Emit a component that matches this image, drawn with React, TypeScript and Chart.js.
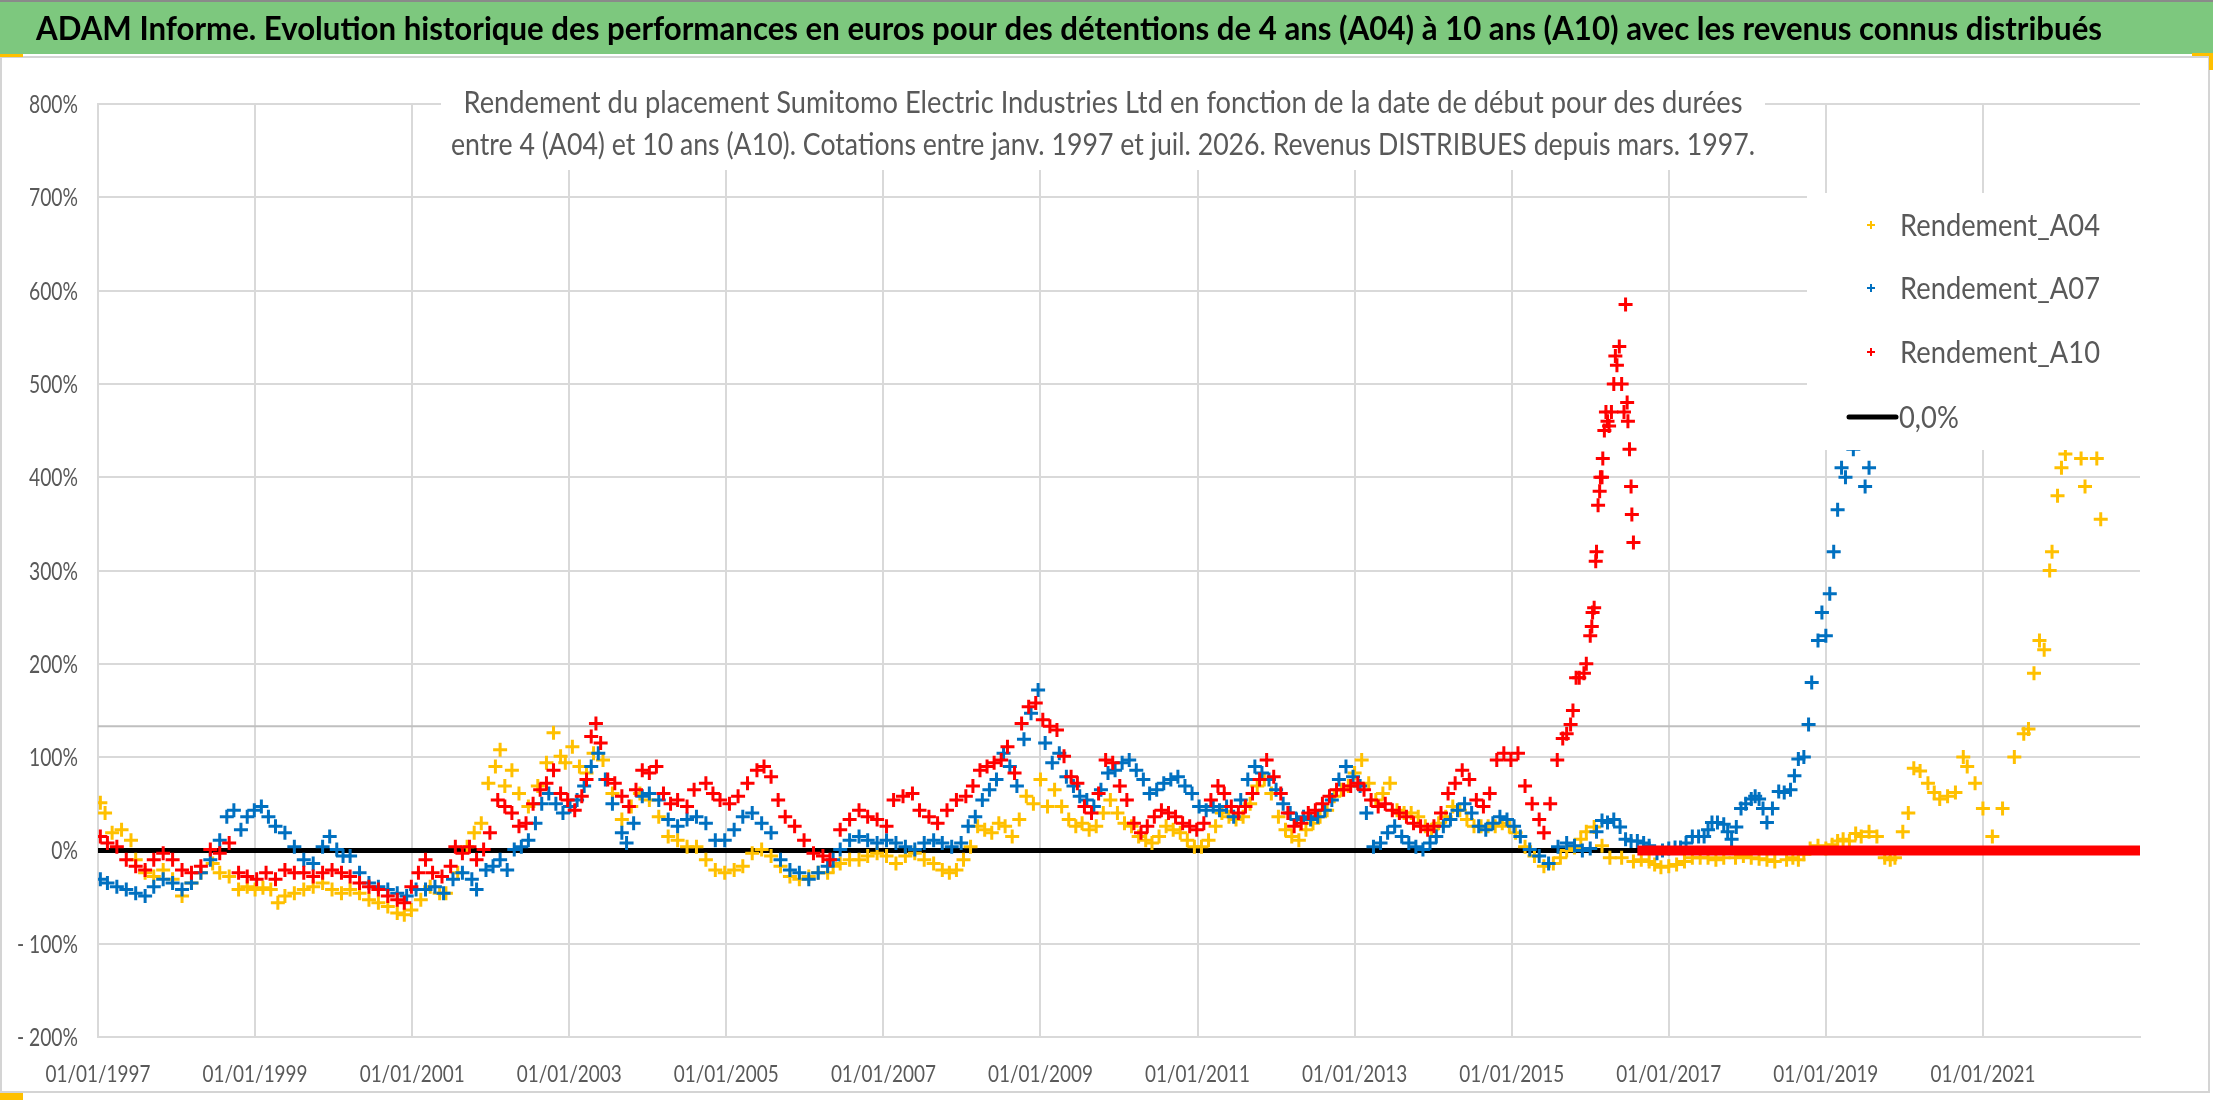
import React, { useEffect, useRef } from 'react';
import { Chart, registerables } from 'chart.js';

Chart.register(...registerables);

// ---------- DATA (decimal year, % return) ----------
const A04: [number, number][] = [
  [1997.03, 51], [1997.09, 40], [1997.18, 19], [1997.3, 22], [1997.42, 11], [1997.48, -10], [1997.6, -24],
  [1997.71, -28], [1997.83, -21], [1997.95, -31], [1998.07, -49], [1998.19, -35], [1998.31, -24], [1998.46, -14],
  [1998.55, -24], [1998.67, -28], [1998.79, -42], [1998.9, -39], [1999.0, -42], [1999.1, -40], [1999.2, -42],
  [1999.29, -56], [1999.38, -49], [1999.5, -46], [1999.62, -42], [1999.74, -39], [1999.86, -35], [1999.98, -42],
  [2000.1, -46], [2000.21, -42], [2000.33, -46], [2000.45, -53], [2000.57, -56], [2000.69, -60], [2000.81, -67],
  [2000.9, -69], [2000.99, -64], [2001.11, -53], [2001.23, -39], [2001.35, -46], [2001.43, -46], [2001.58, -24],
  [2001.7, 4], [2001.79, 19], [2001.88, 29], [2001.97, 72], [2002.06, 90], [2002.12, 108], [2002.18, 69],
  [2002.27, 86], [2002.36, 61], [2002.48, 47], [2002.6, 69], [2002.71, 94], [2002.8, 126], [2002.89, 101],
  [2002.95, 94], [2003.04, 111], [2003.13, 90], [2003.22, 83], [2003.31, 104], [2003.43, 97], [2003.55, 61],
  [2003.67, 33], [2003.79, 47], [2003.9, 61], [2004.02, 54], [2004.14, 36], [2004.26, 15], [2004.38, 11],
  [2004.5, 4], [2004.62, 4], [2004.74, -10], [2004.86, -21], [2004.98, -24], [2005.1, -21], [2005.21, -17],
  [2005.33, -3], [2005.45, 1], [2005.57, -6], [2005.69, -17], [2005.81, -28], [2005.93, -31], [2006.05, -28],
  [2006.17, -24], [2006.29, -24], [2006.36, -17], [2006.45, -14], [2006.57, -10], [2006.69, -10], [2006.8, -6],
  [2006.92, -3], [2007.04, -6], [2007.16, -14], [2007.28, -6], [2007.4, -3], [2007.52, -10], [2007.64, -14],
  [2007.75, -21], [2007.84, -24], [2007.93, -21], [2008.02, -10], [2008.11, 4], [2008.2, 26], [2008.29, 22],
  [2008.38, 19], [2008.47, 29], [2008.55, 26], [2008.64, 15], [2008.73, 33], [2008.82, 58], [2008.91, 50],
  [2009.0, 76], [2009.09, 47], [2009.18, 65], [2009.27, 47], [2009.36, 33], [2009.45, 26], [2009.53, 29],
  [2009.62, 22], [2009.71, 26], [2009.8, 40], [2009.89, 54], [2009.98, 40], [2010.07, 29], [2010.16, 26],
  [2010.25, 15], [2010.34, 11], [2010.42, 8], [2010.51, 15], [2010.6, 26], [2010.69, 22], [2010.78, 19],
  [2010.87, 11], [2010.96, 4], [2011.05, 4], [2011.14, 11], [2011.23, 26], [2011.31, 40], [2011.4, 36],
  [2011.49, 33], [2011.58, 36], [2011.67, 50], [2011.76, 69], [2011.85, 76], [2011.94, 61], [2012.03, 36],
  [2012.12, 22], [2012.2, 15], [2012.29, 11], [2012.38, 22], [2012.47, 29], [2012.56, 36], [2012.65, 43],
  [2012.74, 58], [2012.83, 65], [2012.92, 69], [2013.0, 83], [2013.09, 97], [2013.18, 72], [2013.27, 54],
  [2013.36, 61], [2013.45, 72], [2013.54, 43], [2013.63, 40], [2013.72, 40], [2013.81, 36], [2013.9, 26],
  [2013.98, 22], [2014.07, 29], [2014.16, 36], [2014.25, 47], [2014.34, 43], [2014.43, 33], [2014.52, 26],
  [2014.61, 26], [2014.7, 26], [2014.79, 26], [2014.88, 29], [2014.97, 26], [2015.05, 19], [2015.17, 4],
  [2015.29, -6], [2015.41, -17], [2015.53, -14], [2015.62, -8], [2015.7, 0], [2015.8, 3], [2015.88, 12],
  [2015.95, 20], [2016.05, 25], [2016.15, 5], [2016.25, -8], [2016.4, -8], [2016.55, -12], [2016.65, -10],
  [2016.75, -12], [2016.82, -15], [2016.9, -18], [2017.0, -17], [2017.1, -15], [2017.2, -12], [2017.3, -8],
  [2017.4, -8], [2017.5, -8], [2017.6, -10], [2017.7, -8], [2017.85, -8], [2017.95, -6], [2018.05, -8],
  [2018.15, -9], [2018.25, -10], [2018.35, -12], [2018.5, -10], [2018.58, -8], [2018.65, -10], [2018.72, -4],
  [2018.8, 2], [2018.9, 5], [2019.0, 2], [2019.08, 6], [2019.15, 10], [2019.22, 12], [2019.3, 10],
  [2019.38, 18], [2019.45, 15], [2019.55, 20], [2019.65, 15], [2019.75, -8], [2019.82, -10], [2019.88, -8],
  [2019.98, 20], [2020.05, 40], [2020.12, 88], [2020.2, 85], [2020.3, 72], [2020.38, 62], [2020.45, 55],
  [2020.55, 58], [2020.65, 62], [2020.75, 100], [2020.8, 90], [2020.9, 72], [2021.0, 45], [2021.12, 15],
  [2021.25, 45], [2021.4, 100], [2021.52, 125], [2021.58, 130], [2021.65, 190], [2021.72, 225], [2021.78, 215],
  [2021.85, 300], [2021.88, 320], [2021.95, 380], [2022.0, 410], [2022.05, 425], [2022.25, 420], [2022.3, 390],
  [2022.45, 420], [2022.5, 355],
];

const A07: [number, number][] = [
  [1997.03, -31], [1997.12, -35], [1997.24, -39], [1997.36, -42], [1997.48, -46], [1997.6, -49], [1997.71, -39],
  [1997.83, -31], [1997.95, -35], [1998.07, -42], [1998.19, -35], [1998.31, -24], [1998.43, -10], [1998.55, 11],
  [1998.64, 36], [1998.73, 43], [1998.82, 22], [1998.9, 36], [1998.99, 43], [1999.08, 47], [1999.17, 36],
  [1999.26, 26], [1999.38, 19], [1999.5, 4], [1999.62, -10], [1999.74, -14], [1999.86, 4], [1999.95, 15],
  [2000.04, 1], [2000.12, -6], [2000.21, -6], [2000.33, -24], [2000.45, -35], [2000.57, -39], [2000.69, -42],
  [2000.81, -46], [2000.93, -49], [2001.05, -42], [2001.17, -42], [2001.29, -39], [2001.4, -46], [2001.52, -31],
  [2001.64, -24], [2001.76, -31], [2001.82, -42], [2001.94, -21], [2002.03, -17], [2002.12, -10], [2002.21, -21],
  [2002.3, 1], [2002.39, 4], [2002.48, 11], [2002.57, 29], [2002.65, 50], [2002.74, 61], [2002.83, 50],
  [2002.92, 40], [2003.01, 47], [2003.1, 54], [2003.19, 69], [2003.28, 90], [2003.37, 104], [2003.46, 76],
  [2003.55, 50], [2003.67, 19], [2003.73, 8], [2003.82, 29], [2003.93, 58], [2004.02, 61], [2004.14, 54],
  [2004.26, 33], [2004.38, 26], [2004.5, 33], [2004.62, 36], [2004.74, 29], [2004.86, 11], [2004.98, 11],
  [2005.1, 22], [2005.21, 36], [2005.33, 40], [2005.45, 29], [2005.57, 19], [2005.69, -10], [2005.81, -21],
  [2005.93, -24], [2006.05, -31], [2006.17, -24], [2006.29, -17], [2006.36, -10], [2006.45, 1], [2006.57, 11],
  [2006.69, 15], [2006.8, 11], [2006.92, 8], [2007.04, 11], [2007.16, 8], [2007.28, 4], [2007.4, 1],
  [2007.52, 8], [2007.64, 11], [2007.75, 8], [2007.87, 4], [2007.99, 8], [2008.08, 26], [2008.17, 36],
  [2008.26, 54], [2008.35, 65], [2008.44, 76], [2008.53, 104], [2008.61, 90], [2008.7, 69], [2008.79, 119],
  [2008.88, 147], [2008.97, 172], [2009.06, 115], [2009.15, 94], [2009.24, 104], [2009.33, 79], [2009.42, 69],
  [2009.5, 58], [2009.59, 54], [2009.68, 47], [2009.77, 65], [2009.86, 83], [2009.95, 86], [2010.04, 94],
  [2010.13, 97], [2010.22, 86], [2010.31, 76], [2010.39, 61], [2010.48, 65], [2010.57, 72], [2010.66, 76],
  [2010.75, 79], [2010.84, 69], [2010.93, 61], [2011.02, 47], [2011.11, 43], [2011.2, 47], [2011.28, 43],
  [2011.37, 47], [2011.46, 36], [2011.55, 54], [2011.64, 76], [2011.73, 90], [2011.82, 83], [2011.91, 76],
  [2012.0, 65], [2012.09, 50], [2012.18, 40], [2012.26, 33], [2012.35, 36], [2012.44, 33], [2012.53, 36],
  [2012.62, 43], [2012.71, 54], [2012.8, 76], [2012.89, 90], [2012.98, 79], [2013.07, 69], [2013.15, 40],
  [2013.24, 4], [2013.33, 8], [2013.42, 19], [2013.51, 26], [2013.6, 15], [2013.69, 8], [2013.78, 4],
  [2013.87, 1], [2013.96, 8], [2014.04, 15], [2014.13, 26], [2014.22, 33], [2014.31, 43], [2014.4, 50],
  [2014.49, 40], [2014.58, 26], [2014.67, 22], [2014.76, 29], [2014.85, 36], [2014.94, 33], [2015.03, 26],
  [2015.11, 15], [2015.23, 1], [2015.35, -6], [2015.47, -14], [2015.59, 4], [2015.7, 8], [2015.8, 5],
  [2015.9, 0], [2016.0, 2], [2016.08, 20], [2016.15, 32], [2016.22, 30], [2016.3, 33], [2016.38, 25],
  [2016.45, 12], [2016.52, 10], [2016.6, 10], [2016.68, 8], [2016.75, 5], [2016.85, -3], [2016.92, 0],
  [2017.0, 2], [2017.08, 3], [2017.15, 3], [2017.22, 8], [2017.3, 15], [2017.38, 15], [2017.45, 15],
  [2017.5, 22], [2017.55, 30], [2017.62, 30], [2017.7, 28], [2017.75, 20], [2017.8, 12], [2017.86, 25],
  [2017.92, 45], [2017.98, 50], [2018.05, 55], [2018.1, 58], [2018.15, 55], [2018.2, 45], [2018.25, 30],
  [2018.32, 45], [2018.4, 63], [2018.47, 62], [2018.55, 65], [2018.6, 80], [2018.65, 98], [2018.72, 100],
  [2018.78, 135], [2018.82, 180], [2018.9, 225], [2018.95, 255], [2019.0, 230], [2019.05, 275], [2019.1, 320],
  [2019.15, 365], [2019.2, 410], [2019.25, 400], [2019.35, 430], [2019.5, 390], [2019.55, 410],
];

const A10: [number, number][] = [
  [1997.03, 15], [1997.12, 8], [1997.24, 4], [1997.36, -10], [1997.48, -17], [1997.6, -21], [1997.71, -10],
  [1997.83, -3], [1997.95, -10], [1998.07, -21], [1998.19, -24], [1998.31, -17], [1998.43, 1], [1998.55, -3],
  [1998.67, 8], [1998.79, -24], [1998.9, -28], [1999.02, -31], [1999.14, -24], [1999.26, -31], [1999.38, -21],
  [1999.5, -24], [1999.62, -24], [1999.74, -28], [1999.86, -24], [1999.98, -21], [2000.1, -24], [2000.21, -28],
  [2000.33, -35], [2000.45, -39], [2000.57, -42], [2000.69, -49], [2000.81, -53], [2000.9, -56], [2000.99, -39],
  [2001.08, -24], [2001.17, -10], [2001.26, -24], [2001.38, -28], [2001.49, -17], [2001.55, 4], [2001.64, -3],
  [2001.73, 4], [2001.82, -10], [2001.91, 1], [2001.99, 19], [2002.09, 54], [2002.18, 47], [2002.27, 40],
  [2002.36, 26], [2002.45, 29], [2002.54, 50], [2002.63, 65], [2002.71, 72], [2002.8, 86], [2002.89, 61],
  [2002.98, 54], [2003.07, 43], [2003.16, 58], [2003.22, 76], [2003.28, 122], [2003.34, 136], [2003.4, 115],
  [2003.49, 76], [2003.58, 72], [2003.67, 58], [2003.76, 47], [2003.85, 65], [2003.93, 86], [2004.02, 83],
  [2004.11, 90], [2004.2, 61], [2004.29, 50], [2004.38, 54], [2004.5, 47], [2004.59, 65], [2004.74, 72],
  [2004.83, 61], [2004.92, 54], [2005.04, 50], [2005.15, 58], [2005.27, 72], [2005.39, 86], [2005.48, 90],
  [2005.57, 79], [2005.66, 54], [2005.75, 36], [2005.87, 26], [2005.99, 11], [2006.11, -3], [2006.23, -6],
  [2006.32, -10], [2006.45, 22], [2006.57, 33], [2006.69, 43], [2006.8, 36], [2006.92, 33], [2007.04, 26],
  [2007.13, 54], [2007.25, 58], [2007.37, 61], [2007.46, 43], [2007.58, 36], [2007.69, 29], [2007.81, 43],
  [2007.93, 54], [2008.05, 58], [2008.14, 69], [2008.23, 86], [2008.32, 90], [2008.41, 94], [2008.5, 97],
  [2008.58, 111], [2008.67, 83], [2008.76, 136], [2008.85, 154], [2008.94, 158], [2009.03, 140], [2009.12, 133],
  [2009.21, 129], [2009.3, 101], [2009.39, 79], [2009.47, 72], [2009.56, 47], [2009.65, 40], [2009.74, 61],
  [2009.83, 97], [2009.92, 94], [2010.01, 69], [2010.1, 54], [2010.19, 29], [2010.28, 19], [2010.36, 26],
  [2010.45, 36], [2010.54, 43], [2010.63, 40], [2010.72, 36], [2010.81, 29], [2010.9, 26], [2010.99, 22],
  [2011.08, 29], [2011.17, 54], [2011.26, 69], [2011.34, 61], [2011.43, 47], [2011.52, 40], [2011.61, 47],
  [2011.7, 61], [2011.79, 76], [2011.88, 97], [2011.97, 79], [2012.06, 61], [2012.15, 40], [2012.23, 26],
  [2012.32, 29], [2012.41, 40], [2012.5, 43], [2012.59, 50], [2012.68, 58], [2012.77, 65], [2012.86, 65],
  [2012.95, 69], [2013.04, 72], [2013.12, 65], [2013.21, 54], [2013.3, 47], [2013.39, 50], [2013.48, 43],
  [2013.57, 40], [2013.66, 36], [2013.75, 29], [2013.84, 26], [2013.93, 22], [2014.01, 26], [2014.1, 40],
  [2014.19, 61], [2014.28, 72], [2014.37, 86], [2014.46, 76], [2014.55, 54], [2014.64, 47], [2014.72, 61],
  [2014.81, 97], [2014.9, 104], [2014.99, 97], [2015.08, 104], [2015.17, 69], [2015.26, 50], [2015.35, 33],
  [2015.41, 19], [2015.49, 50], [2015.58, 97], [2015.65, 120], [2015.7, 125], [2015.75, 135], [2015.78, 150],
  [2015.82, 185], [2015.86, 185], [2015.92, 190], [2015.95, 200], [2016.0, 230], [2016.02, 240], [2016.03, 255],
  [2016.05, 260], [2016.07, 310], [2016.08, 320], [2016.1, 370], [2016.12, 385], [2016.13, 400], [2016.15, 400],
  [2016.16, 420], [2016.18, 450], [2016.2, 470], [2016.22, 460], [2016.24, 455], [2016.27, 470], [2016.3, 500],
  [2016.32, 530], [2016.34, 520], [2016.37, 540], [2016.4, 500], [2016.43, 470], [2016.45, 585], [2016.47, 480],
  [2016.48, 460], [2016.5, 430], [2016.52, 390], [2016.53, 360], [2016.55, 330],
];

// A10 has no 10-year window after mid-2016: shown as 0 until the end of the axis
const A10_ZERO_TAIL: [number, number][] = [[2016.6, 0], [2023, 0]];
const ZERO_LINE: [number, number][] = [[1997, 0], [2023, 0]];
const REF_LINE: [number, number][] = [[1997, 133], [2023, 133]];

const TITLE =
  'ADAM Informe. Evolution historique des performances en euros pour des détentions de 4 ans (A04) à 10 ans (A10) avec les revenus connus distribués';
const SUBTITLE = [
  'Rendement du placement Sumitomo Electric Industries Ltd en fonction de la date de début pour des durées',
  'entre 4 (A04) et 10 ans (A10). Cotations entre janv. 1997 et juil. 2026. Revenus DISTRIBUES depuis mars. 1997.',
];
const LEGEND_LABELS = ['Rendement_A04', 'Rendement_A07', 'Rendement_A10', '0,0%'];
const C_A04 = '#FFC000';
const C_A07 = '#0070C0';
const C_A10 = '#FF0000';
const GREY_TEXT = '#595959';
const GRID = '#D9D9D9';
const FONT = 'Lato, "Open Sans", "Noto Sans", sans-serif';

const W = 2216;
const H = 1102;

const toPts = (arr: [number, number][]) => arr.map(([x, y]) => ({ x, y }));

function fitScale(ctx: CanvasRenderingContext2D, s: string, font: string, w: number) {
  ctx.save();
  ctx.font = font;
  const m = ctx.measureText(s).width;
  ctx.restore();
  return w / m;
}

function txt(
  ctx: CanvasRenderingContext2D, s: string, x: number, y: number, font: string,
  color: string, align: CanvasTextAlign, sx: number,
) {
  ctx.save();
  ctx.font = font;
  ctx.fillStyle = color;
  ctx.textAlign = align;
  ctx.textBaseline = 'alphabetic';
  ctx.translate(x, y);
  ctx.scale(sx, 1);
  ctx.fillText(s, 0, 0);
  ctx.restore();
}

const yLabel = (v: number) => (v < 0 ? `- ${Math.abs(v)}%` : `${v}%`);
const xLabel = (v: number) => `01/01/${v}`;

const decor = {
  id: 'decor',
  beforeDraw(chart: any) {
    const ctx: CanvasRenderingContext2D = chart.ctx;
    ctx.save();
    ctx.fillStyle = '#FFFFFF';
    ctx.fillRect(0, 0, W, H);
    // title bar
    ctx.fillStyle = '#7DC87E';
    ctx.fillRect(0, 0, 2213, 54);
    ctx.fillStyle = '#8A8A8A';
    ctx.fillRect(0, 0, 2213, 2);
    // chart frame
    ctx.strokeStyle = '#D4D4D4';
    ctx.lineWidth = 2;
    ctx.strokeRect(1, 57, 2208, 1035);
    // selection handles
    ctx.fillStyle = '#FFC000';
    ctx.fillRect(0, 54, 23, 3);
    ctx.fillRect(2192, 53, 21, 3);
    ctx.fillRect(2209, 53, 4, 17);
    ctx.fillRect(0, 1093, 23, 7);
    ctx.restore();
    const tf = 'bold 33px ' + FONT;
    txt(ctx, TITLE, 1069, 40, tf, '#000000', 'center', fitScale(ctx, TITLE, tf, 2066));
  },
  afterDatasetsDraw(chart: any) {
    const ctx: CanvasRenderingContext2D = chart.ctx;
    // subtitle box
    ctx.save();
    ctx.fillStyle = '#FFFFFF';
    ctx.fillRect(441, 80, 1324, 90);
    ctx.restore();
    const sf = '30px ' + FONT;
    txt(ctx, SUBTITLE[0], 1103, 113, sf, GREY_TEXT, 'center', fitScale(ctx, SUBTITLE[0], sf, 1279));
    txt(ctx, SUBTITLE[1], 1103, 155, sf, GREY_TEXT, 'center', fitScale(ctx, SUBTITLE[1], sf, 1304));

    // legend box
    const area = chart.chartArea;
    ctx.save();
    ctx.fillStyle = '#FFFFFF';
    ctx.fillRect(1807, 193, area.right - 1807 + 1, 450 - 193);
    const cols = [C_A04, C_A07, C_A10];
    const ys = [225, 288, 352];
    ctx.lineWidth = 2;
    cols.forEach((c, i) => {
      ctx.strokeStyle = c;
      ctx.beginPath();
      ctx.moveTo(1867, ys[i]);
      ctx.lineTo(1875, ys[i]);
      ctx.moveTo(1871, ys[i] - 4);
      ctx.lineTo(1871, ys[i] + 4);
      ctx.stroke();
    });
    ctx.strokeStyle = '#000000';
    ctx.lineWidth = 5;
    ctx.lineCap = 'round';
    ctx.beginPath();
    ctx.moveTo(1849, 417);
    ctx.lineTo(1896, 417);
    ctx.stroke();
    ctx.restore();
    const lf = '31px ' + FONT;
    const lsx = fitScale(ctx, LEGEND_LABELS[0], lf, 200);
    for (let i = 0; i < 3; i++) txt(ctx, LEGEND_LABELS[i], 1900, ys[i] + 11, lf, GREY_TEXT, 'left', lsx);
    txt(ctx, LEGEND_LABELS[3], 1899, 428, lf, GREY_TEXT, 'left', lsx);
  },
  afterDraw(chart: any) {
    const ctx: CanvasRenderingContext2D = chart.ctx;
    const ys = chart.scales.y;
    const xs = chart.scales.x;
    const yf = '25px ' + FONT;
    const ysx = fitScale(ctx, '800%', yf, 49);
    ys.ticks.forEach((t: any) => {
      txt(ctx, yLabel(t.value), 78, ys.getPixelForValue(t.value) + 9, yf, GREY_TEXT, 'right', ysx);
    });
    const xf = '24px ' + FONT;
    const xsx = fitScale(ctx, '01/01/1997', xf, 105);
    xs.ticks.forEach((t: any) => {
      if (t.value >= 2023) return;
      txt(ctx, xLabel(t.value), xs.getPixelForValue(t.value), 1082, xf, GREY_TEXT, 'center', xsx);
    });
  },
};

const scatterDs = (label: string, data: [number, number][], color: string, order: number) => ({
  label,
  data: toPts(data),
  showLine: false,
  pointStyle: 'cross',
  pointRadius: 7,
  pointHoverRadius: 7,
  pointBorderWidth: 3,
  borderColor: color,
  backgroundColor: color,
  pointBorderColor: color,
  order,
});

const lineDs = (label: string, data: [number, number][], color: string, width: number, order: number) => ({
  label,
  data: toPts(data),
  showLine: true,
  pointRadius: 0,
  pointHoverRadius: 0,
  borderColor: color,
  backgroundColor: color,
  borderWidth: width,
  borderCapStyle: 'butt',
  order,
});

export default function App() {
  const ref = useRef<HTMLCanvasElement | null>(null);
  useEffect(() => {
    document.body.style.margin = '0';
    const canvas = ref.current;
    if (!canvas) return;
    const chart = new Chart(canvas, {
      type: 'scatter',
      data: {
        datasets: [
          lineDs('ref', REF_LINE, '#BFBFBF', 2, 7) as any,
          lineDs('0,0%', ZERO_LINE, '#000000', 5, 6) as any,
          scatterDs('Rendement_A04', A04, C_A04, 5) as any,
          scatterDs('Rendement_A07', A07, C_A07, 4) as any,
          scatterDs('Rendement_A10', A10, C_A10, 3) as any,
          lineDs('A10 zero', A10_ZERO_TAIL, C_A10, 10, 2) as any,
        ],
      },
      options: {
        responsive: false,
        animation: false,
        devicePixelRatio: 1,
        events: [],
        layout: { padding: { left: 98, right: W - 2140, top: 104, bottom: H - 1037 } },
        plugins: { legend: { display: false }, tooltip: { enabled: false }, title: { display: false } },
        scales: {
          x: {
            type: 'linear',
            min: 1997,
            max: 2023,
            ticks: { stepSize: 2, display: false },
            grid: {
              color: (c: any) => (c.tick && c.tick.value >= 2023 ? 'rgba(0,0,0,0)' : GRID),
              lineWidth: 2,
              drawTicks: false,
            },
            border: { display: true, color: GRID, width: 2 },
            afterFit: (s: any) => { s.height = 0; },
          },
          y: {
            type: 'linear',
            min: -200,
            max: 800,
            ticks: { stepSize: 100, display: false },
            grid: { color: GRID, lineWidth: 2, drawTicks: false },
            border: { display: true, color: GRID, width: 2 },
            afterFit: (s: any) => { s.width = 0; },
          },
        },
      } as any,
      plugins: [decor as any],
    });
    return () => chart.destroy();
  }, []);
  return <canvas ref={ref} width={W} height={H} style={{ display: 'block', width: W, height: H }} />;
}
